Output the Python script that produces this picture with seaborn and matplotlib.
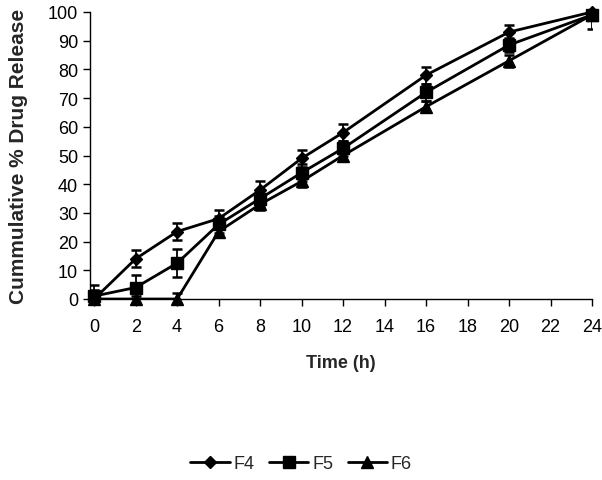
import numpy as np
import pandas as pd
import matplotlib
matplotlib.use("Agg")
import matplotlib.pyplot as plt
import seaborn as sns
from matplotlib.lines import Line2D

# данные
time_h = [0, 2, 4, 6, 8, 10, 12, 16, 20, 24]
f4 = [0, 14, 23.5, 28, 38, 49, 58, 78, 93, 100]
f5 = [1, 4, 12.5, 26, 35, 44, 52.5, 72, 88.5, 99]
f6 = [0, 0, 0, 23.5, 33, 41, 50, 67, 83, 99]
f4_err = [3, 3, 3, 3, 3, 3, 3, 3, 2.5, 1.5]
f5_err = [4, 4.5, 5, 3, 3, 3, 2.5, 3, 2.5, 5]
f6_err = [1, 1, 2, 2, 2, 2, 2, 2, 2, 1.5]
series_names = ["F4", "F5", "F6"]
markers = ["D", "s", "^"]
marker_sizes = [6.5, 9, 9]

df = pd.DataFrame({
    "time": time_h * 3,
    "release": f4 + f5 + f6,
    "err": f4_err + f5_err + f6_err,
    "form": [n for n in series_names for _ in time_h],
})

sns.set_theme(style="white")
plt.rcParams["font.family"] = ["Liberation Sans", "DejaVu Sans"]

fig = plt.figure(figsize=(6.02, 4.81), dpi=100)
ax = fig.add_axes([90 / 602, 1 - 300 / 481, 502 / 602, 287 / 481])

# линии
sns.lineplot(
    data=df, x="time", y="release", hue="form", style="form",
    palette=["black"] * 3, markers=False, dashes=False,
    linewidth=2.0, ax=ax, legend=False,
)
# маркеры + планки погрешностей
for name, m, ms in zip(series_names, markers, marker_sizes):
    sub = df[df["form"] == name]
    cont = ax.errorbar(sub["time"], sub["release"], yerr=sub["err"], fmt=m,
                       color="black", markersize=ms, capsize=3.5, elinewidth=1.3,
                       capthick=1.8, label=name, zorder=3)
    cont[0].set_clip_on(False)

ax.set_xlim(-0.2, 24)
ax.set_ylim(0, 100)
ax.set_xticks(range(0, 25, 2))
ax.set_yticks(range(0, 101, 10))
sns.despine(ax=ax)
for s in ["left", "bottom"]:
    ax.spines[s].set_color("black")
    ax.spines[s].set_linewidth(1.0)
ax.tick_params(axis="both", direction="out", length=5, width=1, colors="black",
               labelsize=13, bottom=True, left=True)
ax.tick_params(axis="x", pad=9)

ax.set_xlabel("Time (h)", fontsize=13, fontweight="bold", labelpad=13)
ax.set_ylabel("Cummulative % Drug Release", fontsize=15, fontweight="bold",
              labelpad=14)

leg_handles = [Line2D([0], [0], color="black", marker=m, markersize=ms, lw=2)
               for m, ms in zip(markers, marker_sizes)]
fig.legend(leg_handles, series_names, loc="center",
           bbox_to_anchor=(0.5, 1 - 465 / 481),
           ncol=3, frameon=False, fontsize=13, handlelength=2.2,
           columnspacing=0.8, handletextpad=0.2)

plt.savefig("out.png", dpi=100)
